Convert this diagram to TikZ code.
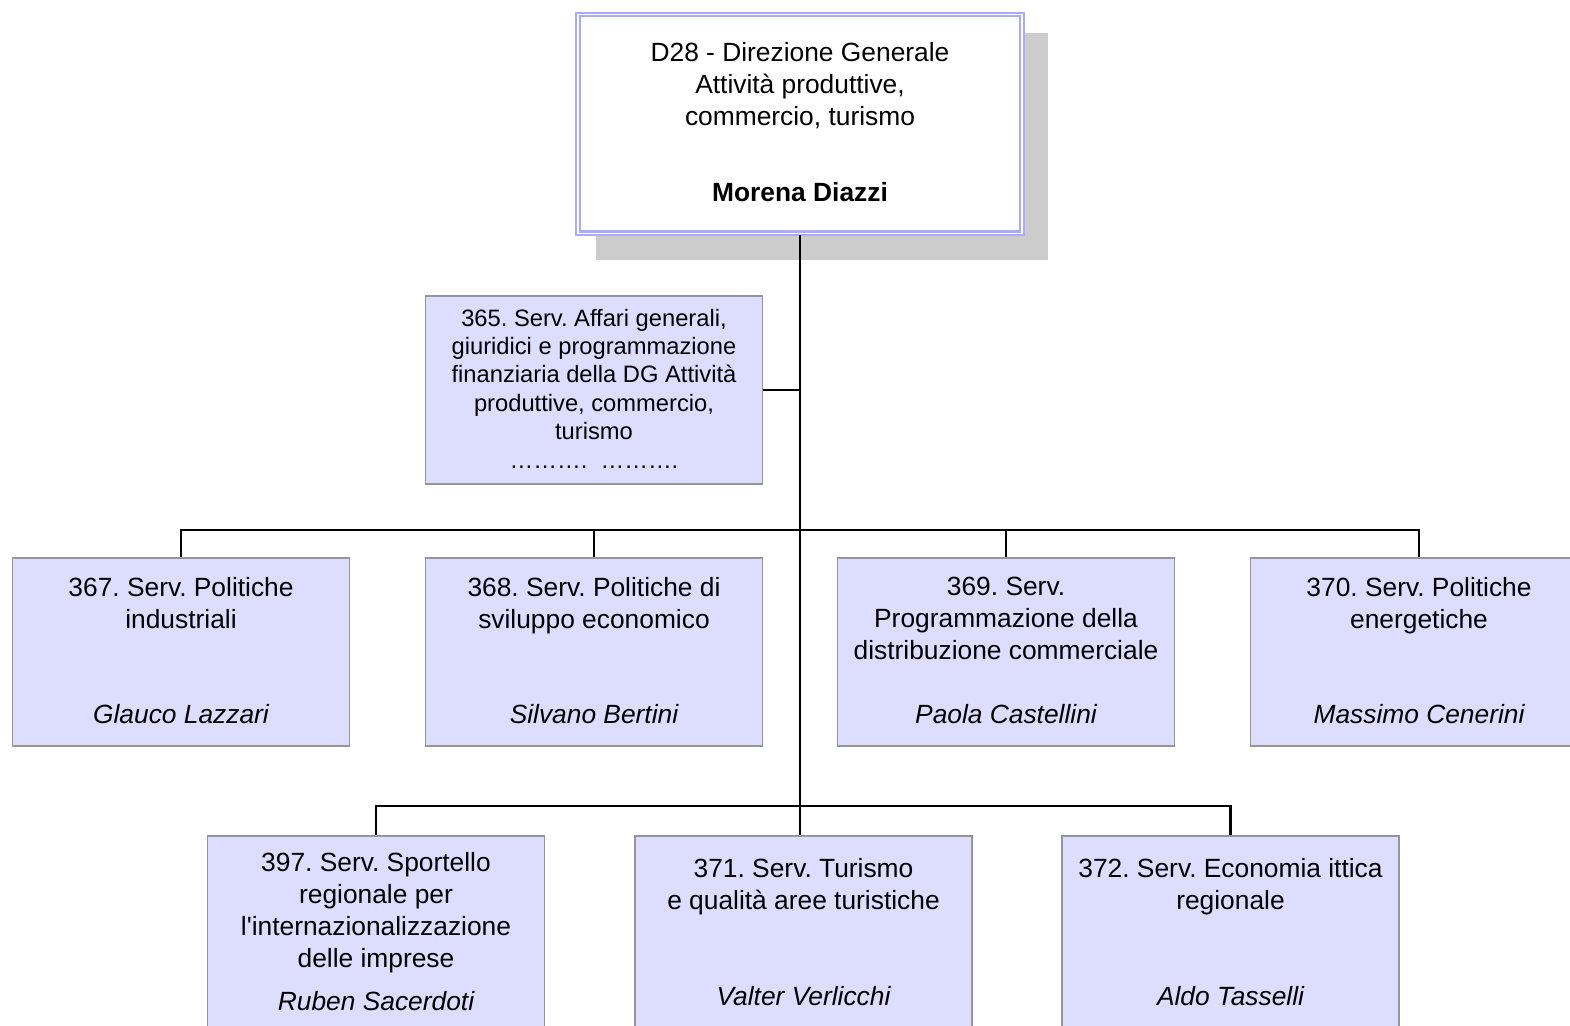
\documentclass[tikz,border=0pt]{standalone}
\usepackage{fontspec}
\setmainfont{Liberation Sans}
\usepackage{xcolor}
\definecolor{unitfill}{RGB}{221, 221, 255}
\definecolor{unitgray}{RGB}{150, 150, 150}
\definecolor{headpurple}{RGB}{170, 170, 255}
\definecolor{shadowgray}{RGB}{204, 204, 204}
\frenchspacing

\begin{document}
\begin{tikzpicture}[
    x=0.02cm, y=-0.02cm,
    unitbox/.style={rectangle, draw=unitgray, fill=unitfill, line width=1pt, minimum width=6.74cm, minimum height=3.76cm, inner sep=0pt},
    headbox/.style={rectangle, draw=headpurple, double=white, double distance=1pt, line width=1.2pt, fill=white, minimum width=8.88cm, minimum height=4.38cm, inner sep=0pt},
    shadowbox/.style={rectangle, fill=shadowgray, minimum width=9.04cm, minimum height=4.54cm, inner sep=0pt},
    unittitle/.style={align=center, inner sep=0pt, anchor=north, font=\fontsize{15pt}{18.1pt}\selectfont},
    smalltitle/.style={align=center, inner sep=0pt, anchor=north, font=\fontsize{13.5pt}{16.2pt}\selectfont},
    person/.style={inner sep=0pt, anchor=base, font=\fontsize{15pt}{18pt}\selectfont\itshape},
    link/.style={line width=1.3pt, black}
]

% Page
\useasboundingbox (0,0) rectangle (1570,1026);
\fill[white] (0,0) rectangle (1570,1026);

% Direzione Generale
\node[shadowbox] (shadow) at (822,146.5) {};
\node[headbox] (top) at (800,124) {};
\node[unittitle] (ttop) at (800,42.5) {D28 - Direzione Generale\\Attività produttive,\\commercio, turismo};
\node[person, font=\fontsize{15pt}{18pt}\selectfont\bfseries] (ntop) at (800,201.5) {Morena Diazzi};

% Staff service
\node[unitbox] (b365) at (594,390) {};
\node[smalltitle] (t365) at (594,308.5) {365. Serv. Affari generali,\\giuridici e programmazione\\finanziaria della DG Attività\\produttive, commercio,\\turismo\\……….\ \ ……….};

% Services, first row
\node[unitbox] (b367) at (181,652) {};
\node[unitbox] (b368) at (594,652) {};
\node[unitbox] (b369) at (1006,652) {};
\node[unitbox] (b370) at (1419,652) {};

\node[unittitle] (t367) at (181,577) {367. Serv. Politiche\\industriali};
\node[unittitle] (t368) at (594,577) {368. Serv. Politiche di\\sviluppo economico};
\node[unittitle] (t369) at (1006,577) {369. Serv.\\Programmazione della\\distribuzione commerciale};
\node[unittitle] (t370) at (1419,577) {370. Serv. Politiche\\energetiche};

\node[person] (n367) at (181,723.5) {Glauco Lazzari};
\node[person] (n368) at (594,723.5) {Silvano Bertini};
\node[person] (n369) at (1006,723.5) {Paola Castellini};
\node[person] (n370) at (1419,723.5) {Massimo Cenerini};

% Services, second row
\node[unitbox, minimum height=4cm] (b397) at (376,936) {};
\node[unitbox, minimum height=4cm] (b371) at (803.5,936) {};
\node[unitbox, minimum height=4cm] (b372) at (1230.5,936) {};

\node[unittitle] (t397) at (376,852.5) {397. Serv. Sportello\\regionale per\\l\textquotesingle internazionalizzazione\\delle imprese};
\node[unittitle] (t371) at (803.5,858.5) {371. Serv. Turismo\\e qualità aree turistiche};
\node[unittitle] (t372) at (1230.5,858.5) {372. Serv. Economia ittica\\regionale};

\node[person] (n397) at (376,1010.5) {Ruben Sacerdoti};
\node[person] (n371) at (803.5,1005.5) {Valter Verlicchi};
\node[person] (n372) at (1230.5,1005.5) {Aldo Tasselli};

% Connections
\coordinate (bus2) at (800,530);
\coordinate (bus3) at (800,806);
\draw[link] (top.south) -- (top.south |- b371.north);
\draw[link] (b365.east) -- (b365.east -| top.south);
\draw[link] (b367.north) -- (b367.north |- bus2) -- (b370.north |- bus2) -- (b370.north);
\foreach \b in {b368, b369}
    \draw[link] (\b.north) -- (\b.north |- bus2);
\draw[link] (b397.north) -- (b397.north |- bus3) -- (b372.north |- bus3) -- (b372.north);

\end{tikzpicture}
\end{document}
